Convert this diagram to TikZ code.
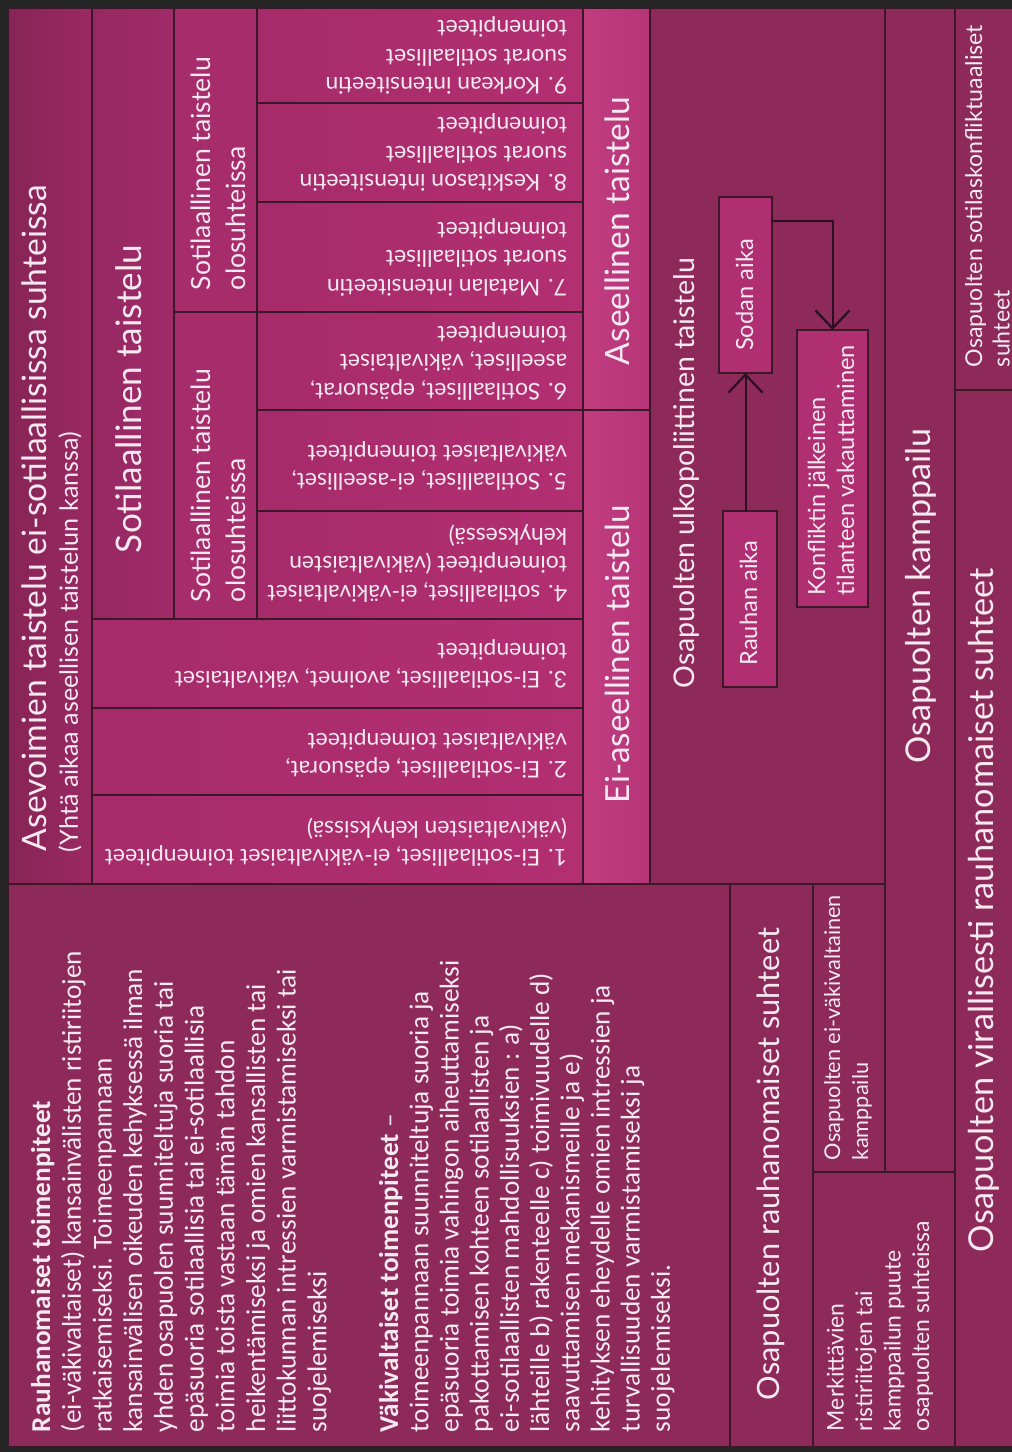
\documentclass[tikz,border=0pt]{standalone}
\usepackage{fontspec}
\setmainfont{Lato}
\newfontfamily\bodyfont{Carlito}
\usetikzlibrary{fit,arrows.meta}
\definecolor{frame}{HTML}{262626}
\definecolor{linec}{HTML}{3A1828}
\definecolor{arrc}{HTML}{2A0F1E}
\definecolor{plum}{HTML}{8E2A5A}
\definecolor{asevL}{HTML}{872455}
\definecolor{asevR}{HTML}{9A2964}
\definecolor{sotL}{HTML}{952863}
\definecolor{sotR}{HTML}{A02B69}
\definecolor{olos}{HTML}{A72C6C}
\definecolor{cellL}{HTML}{A62B6A}
\definecolor{cellR}{HTML}{B22F72}
\definecolor{aselL}{HTML}{C13D80}
\definecolor{aselR}{HTML}{B73479}
\definecolor{small}{HTML}{B02E72}
\definecolor{txt}{HTML}{F6E9F0}
\newlength\fitlen
\newcommand\fitsize[3]{%
  \settowidth\fitlen{\fontsize{10}{12}\selectfont #2}%
  \pgfmathsetmacro\fitsz{10*#1/\fitlen}%
  \fontsize{\fitsz}{#3}\selectfont}
\begin{document}
\begin{tikzpicture}[x=1pt,y=-1pt,
  box/.style={draw=linec, line width=1.4pt, inner sep=0pt, outer sep=0pt},
  lab/.style={text=txt, inner sep=0pt, outer sep=0pt},
  celltext/.style={lab, rotate=180, anchor=west, align=left,
    font={\fitsize{462}{1. Ei-sotilaalliset, ei-väkivaltaiset toimenpiteet}{28.5}}},
  conn/.style={draw=arrc, line width=2pt, -{Straight Barb[length=18pt,width=34pt,line width=2.2pt]}}
]
\useasboundingbox (0,0) rectangle (1012,1452);
\clip (0,0) rectangle (1012,1452);
\fill[frame] (0,0) rectangle (1012,1452);

% ---- boxes
\node[box, left color=asevL, right color=asevR, fit={(8,8)(92,884)}] (asev) {};
\node[box, left color=sotL, right color=sotR, fit={(92,8)(174,619)}] (sot) {};
\node[box, fill=olos, fit={(174,8)(257,312)}] (olosU) {};
\node[box, fill=olos, fit={(174,312)(257,619)}] (olosL) {};
\node[box, left color=cellL, right color=cellR, fit={(257,8)(583,103)}] (c9) {};
\node[box, left color=cellL, right color=cellR, fit={(257,103)(583,202)}] (c8) {};
\node[box, left color=cellL, right color=cellR, fit={(257,202)(583,312)}] (c7) {};
\node[box, left color=cellL, right color=cellR, fit={(257,312)(583,410)}] (c6) {};
\node[box, left color=cellL, right color=cellR, fit={(257,410)(583,511)}] (c5) {};
\node[box, left color=cellL, right color=cellR, fit={(257,511)(583,619)}] (c4) {};
\node[box, left color=cellL, right color=cellR, fit={(92,619)(583,708)}] (c3) {};
\node[box, left color=cellL, right color=cellR, fit={(92,708)(583,795)}] (c2) {};
\node[box, left color=cellL, right color=cellR, fit={(92,795)(583,884)}] (c1) {};
\node[box, left color=aselL, right color=aselR, fit={(583,8)(650,410)}] (asel) {};
\node[box, left color=aselL, right color=aselR, fit={(583,410)(650,884)}] (eiasel) {};
\node[box, fill=plum, fit={(650,8)(885,884)}] (ulko) {};
\node[box, fill=plum, fit={(885,8)(955,1172)}] (kamp) {};
\node[box, fill=plum, fit={(955,8)(1040,390)}] (sotk) {};
\node[box, fill=plum, fit={(955,390)(1040,1447)}] (vir) {};
\node[box, fill=plum, fit={(8,884)(730,1447)}] (body) {};
\node[box, fill=plum, fit={(730,884)(813,1447)}] (rauh) {};
\node[box, fill=plum, fit={(813,884)(885,1172)}] (eivak) {};
\node[box, fill=plum, fit={(813,1172)(955,1447)}] (merk) {};
\node[box, fill=small, fit={(719,197)(772,373)}] (sodan) {};
\node[box, fill=small, fit={(723,511)(777,687)}] (rauhan) {};
\node[box, fill=small, fit={(797,330)(868,607)}] (konf) {};

% ---- connectors
\draw[conn] (sodan.south |- rauhan.north) -- (sodan.south);
\draw[conn] ([yshift=-24pt]sodan.north east) -| (konf.north);

% ---- texts
\node[lab, rotate=90, anchor=west, font={\fitsize{666}{Asevoimien taistelu ei-sotilaallisissa suhteissa}{40}}] (tAsevA) at (34.5,851) {Asevoimien taistelu ei-sotilaallisissa suhteissa};
\node[lab, rotate=90, anchor=west, font={\fitsize{420}{(Yhtä aikaa aseellisen taistelun kanssa)}{30}}] (tAsevB) at (70,852) {(Yhtä aikaa aseellisen taistelun kanssa)};
\node[lab, rotate=90, font={\fitsize{308}{Sotilaallinen taistelu}{40}}] (tSot) at (128.5,399) {Sotilaallinen taistelu};
\node[lab, rotate=90, anchor=west, align=left, font={\fitsize{233}{Sotilaallinen taistelu}{35}}] (tOlosU) at (218.5,290) {Sotilaallinen taistelu\\olosuhteissa};
\node[lab, rotate=90, anchor=west, align=left, font={\fitsize{233}{Sotilaallinen taistelu}{35}}] (tOlosL) at (218.5,602) {Sotilaallinen taistelu\\olosuhteissa};

\node[celltext] (t9) at (567,55.5) {9. Korkean intensiteetin\\suorat sotilaalliset\\toimenpiteet};
\node[celltext] (t8) at (567,152.5) {8. Keskitason intensiteetin\\suorat sotilaalliset\\toimenpiteet};
\node[celltext] (t7) at (567,257) {7. Matalan intensiteetin\\suorat sotilaalliset\\toimenpiteet};
\node[celltext] (t6) at (567,361) {6. Sotilaalliset, epäsuorat,\\aseelliset, väkivaltaiset\\toimenpiteet};
\node[celltext] (t5) at (567,466) {5. Sotilaalliset, ei-aseelliset,\\väkivaltaiset toimenpiteet};
\node[celltext] (t4) at (567,563) {4. sotilaalliset, ei-väkivaltaiset\\toimenpiteet (väkivaltaisten\\kehyksessä)};
\node[celltext] (t3) at (567,664) {3. Ei-sotilaalliset, avoimet, väkivaltaiset\\toimenpiteet};
\node[celltext] (t2) at (567,754) {2. Ei-sotilaalliset, epäsuorat,\\väkivaltaiset toimenpiteet};
\node[celltext] (t1) at (567,842) {1. Ei-sotilaalliset, ei-väkivaltaiset toimenpiteet\\(väkivaltaisten kehyksissä)};

\node[lab, rotate=90, font={\fitsize{268}{Aseellinen taistelu}{40}}] (tAsel) at (617.5,231) {Aseellinen taistelu};
\node[lab, rotate=90, font={\fitsize{298}{Ei-aseellinen taistelu}{40}}] (tEiasel) at (617.5,654) {Ei-aseellinen taistelu};
\node[lab, rotate=90, font={\fitsize{430}{Osapuolten ulkopoliittinen taistelu}{40}}] (tUlko) at (686,473) {Osapuolten ulkopoliittinen taistelu};
\node[lab, rotate=90, font={\fitsize{125}{Rauhan aika}{30}}] (tSodan) at (744.5,295) {Sodan aika};
\node[lab, rotate=90, font={\fitsize{125}{Rauhan aika}{30}}] (tRauhan) at (748.5,603) {Rauhan aika};
\node[lab, rotate=90, align=left, font={\fitsize{250}{tilanteen vakauttaminen}{29}}] (tKonf) at (831,470) {Konfliktin jälkeinen\\tilanteen vakauttaminen};
\node[lab, rotate=90, font={\fitsize{335}{Osapuolten kamppailu}{40}}] (tKamp) at (921,596) {Osapuolten kamppailu};
\node[lab, rotate=90, anchor=west, align=left, font={\fitsize{342}{Osapuolten sotilaskonfliktuaaliset}{27.5}}] (tSotk) at (987.5,367) {Osapuolten sotilaskonfliktuaaliset\\suhteet};
\node[lab, rotate=90, font={\fitsize{684}{Osapuolten virallisesti rauhanomaiset suhteet}{40}}] (tVir) at (984,910) {Osapuolten virallisesti rauhanomaiset suhteet};
\node[lab, rotate=90, font={\fitsize{472}{Osapuolten rauhanomaiset suhteet}{40}}] (tRauh) at (771,1164) {Osapuolten rauhanomaiset suhteet};
\node[lab, rotate=90, anchor=west, align=left, font={\fitsize{265}{Osapuolten ei-väkivaltainen}{28}}] (tEivak) at (848,1160) {Osapuolten ei-väkivaltainen\\kamppailu};
\node[lab, rotate=90, anchor=west, align=left, font={\fitsize{210}{osapuolten suhteissa}{28.5}}] (tMerk) at (880,1431) {Merkittävien\\ristiriitojen tai\\kamppailun puute\\osapuolten suhteissa};

\node[lab, rotate=90, anchor=north west, align=left, font={\bodyfont\fitsize{472}{epäsuoria toimia vahingon aiheuttamiseksi}{30.7}}] (para1) at (31,1432)
{\textbf{Rauhanomaiset toimenpiteet}\\
(ei-väkivaltaiset) kansainvälisten ristiriitojen\\
ratkaisemiseksi. Toimeenpannaan\\
kansainvälisen oikeuden kehyksessä ilman\\
yhden osapuolen suunniteltuja suoria tai\\
epäsuoria sotilaallisia tai ei-sotilaallisia\\
toimia toista vastaan tämän tahdon\\
heikentämiseksi ja omien kansallisten tai\\
liittokunnan intressien varmistamiseksi tai\\
suojelemiseksi};
\node[lab, rotate=90, anchor=north west, align=left, font={\bodyfont\fitsize{472}{epäsuoria toimia vahingon aiheuttamiseksi}{30.2}}] (para2) at (379,1432)
{\textbf{Väkivaltaiset toimenpiteet} –\\
toimeenpannaan suunniteltuja suoria ja\\
epäsuoria toimia vahingon aiheuttamiseksi\\
pakottamisen kohteen sotilaallisten ja\\
ei-sotilaallisten mahdollisuuksien : a)\\
lähteille b) rakenteelle c) toimivuudelle d)\\
saavuttamisen mekanismeille ja e)\\
kehityksen eheydelle omien intressien ja\\
turvallisuuden varmistamiseksi ja\\
suojelemiseksi.};
\end{tikzpicture}
\end{document}
